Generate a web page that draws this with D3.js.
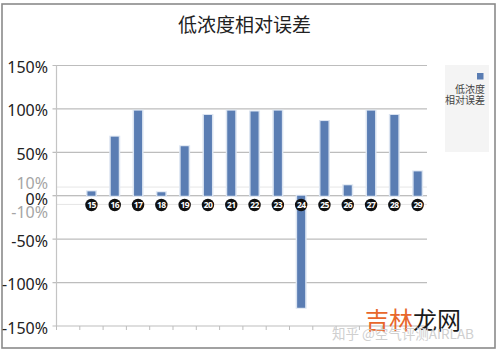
<!DOCTYPE html>
<html><head><meta charset="utf-8">
<script src="https://cdn.jsdelivr.net/npm/d3@7"></script>
<style>body{margin:0;background:#fff;}svg{display:block;}</style>
</head><body>
<svg id="c" width="499" height="356"></svg>
<script>
const categories = ["15","16","17","18","19","20","21","22","23","24","25","26","27","28","29"];
const values = [5, 68, 98, 4, 57, 93, 98, 97, 98, -129, 86, 12, 98, 93, 28];
const majorTicks = [150, 100, 50, 0, -50, -100, -150];
const minorTicks = [10, -10];
const title = "低浓度相对误差";
const seriesName = ["低浓度", "相对误差"];

const svg = d3.select("#c");
const font = "'Noto Sans','Noto Sans CJK SC',sans-serif";
const left = 56.5, right = 427, step = 23.3;

// outer border
svg.append("rect").attr("x",2).attr("y",4).attr("width",493).attr("height",344)
  .attr("fill","#fff").attr("stroke","#8a8a8a").attr("stroke-width",1.6);

const y = d3.scaleLinear().domain([-150,150]).range([326,65.5]);
const x = d3.scaleBand().domain(categories).range([left+step, left+step*16]);

// gridlines
svg.append("g").selectAll("line").data(majorTicks.filter(d=>d!==-150)).join("line")
  .attr("x1",left-4).attr("x2",right).attr("y1",d=>y(d)).attr("y2",d=>y(d))
  .attr("stroke",d=>d===0?"#a8a8a8":"#bdbdbd").attr("stroke-width",1.2);
svg.append("g").selectAll("line").data(minorTicks).join("line")
  .attr("x1",left).attr("x2",right).attr("y1",d=>y(d)).attr("y2",d=>y(d))
  .attr("stroke","#e6e6e6").attr("stroke-width",1);

// y axis line
svg.append("line").attr("x1",left).attr("x2",left).attr("y1",y(150)).attr("y2",y(-150))
  .attr("stroke","#c4c4c4").attr("stroke-width",1.2);
// bottom axis
svg.append("line").attr("x1",left-4).attr("x2",right).attr("y1",y(-150)).attr("y2",y(-150))
  .attr("stroke","#bdbdbd").attr("stroke-width",1.2);
const bounds = d3.range(17).map(i=>left+i*step).filter(v=>v<=right+1);
svg.append("g").selectAll("line").data(bounds).join("line")
  .attr("x1",d=>d).attr("x2",d=>d).attr("y1",y(-150)).attr("y2",y(-150)+4)
  .attr("stroke","#bdbdbd").attr("stroke-width",1);

// y labels
const yLab = svg.append("g").attr("font-family",font).attr("font-size",16).attr("text-anchor","end");
yLab.selectAll("text.maj").data(majorTicks).join("text").attr("class","maj")
  .attr("x",48).attr("y",d=>y(d)+(d===0?9:7.5)).attr("fill","#222").text(d=>d+"%");
yLab.selectAll("text.min").data(minorTicks).join("text").attr("class","min")
  .attr("x",48).attr("y",d=>d>0?y(d)+1.5:y(d)+13.5).attr("fill","#a5a5a5").text(d=>d+"%");

// bars
const bw = 8;
const bars = svg.append("g");
bars.selectAll("rect.glow").data(values).join("rect").attr("class","glow")
  .attr("x",(d,i)=>x(categories[i])+x.bandwidth()/2-bw/2-1.5)
  .attr("y",d=>Math.min(y(d),y(0))-1).attr("width",bw+3)
  .attr("height",d=>Math.abs(y(d)-y(0))+2).attr("fill","#dbe4f1");
bars.selectAll("rect.bar").data(values).join("rect").attr("class","bar")
  .attr("x",(d,i)=>x(categories[i])+x.bandwidth()/2-bw/2)
  .attr("y",d=>Math.min(y(d),y(0))).attr("width",bw)
  .attr("height",d=>Math.abs(y(d)-y(0))).attr("fill","#5a7db3");

// category markers
const cg = svg.append("g").selectAll("g").data(categories).join("g")
  .attr("transform",d=>`translate(${x(d)+x.bandwidth()/2},205)`);
cg.append("circle").attr("r",6.2).attr("fill","#111");
cg.append("text").attr("text-anchor","middle").attr("dy",3.2).attr("font-family",font)
  .attr("font-size",8.5).attr("font-weight","bold").attr("fill","#fff").attr("letter-spacing",-0.6).text(d=>d);

// title
svg.append("text").attr("x",244.5).attr("y",32).attr("text-anchor","middle")
  .attr("font-family","'Noto Sans CJK SC',sans-serif").attr("font-size",19).attr("fill","#222").text(title);

// legend
svg.append("rect").attr("x",445).attr("y",65).attr("width",44).attr("height",87).attr("fill","#f4f4f4");
svg.append("rect").attr("x",477).attr("y",73).attr("width",6.5).attr("height",6.5).attr("fill","#5a7db3");
svg.append("g").attr("font-family","'Noto Sans CJK SC',sans-serif").attr("font-size",10).attr("fill","#444")
  .attr("text-anchor","end").selectAll("text").data(seriesName).join("text")
  .attr("x",485).attr("y",(d,i)=>92.5+i*11).text(d=>d);

// watermarks
const wm = svg.append("text").attr("x",365).attr("y",329).attr("font-family","'Noto Sans CJK SC',sans-serif").attr("font-size",24);
wm.append("tspan").attr("fill","#e8672c").text("吉林");
wm.append("tspan").attr("fill","#1a1a1a").text("龙网");
svg.append("text").attr("x",332).attr("y",338.5).attr("font-family","'Noto Sans CJK SC',sans-serif")
  .attr("font-size",13.5).attr("fill","#cfcfcf").text("知乎 @空气评测AIRLAB");
</script>
</body></html>
